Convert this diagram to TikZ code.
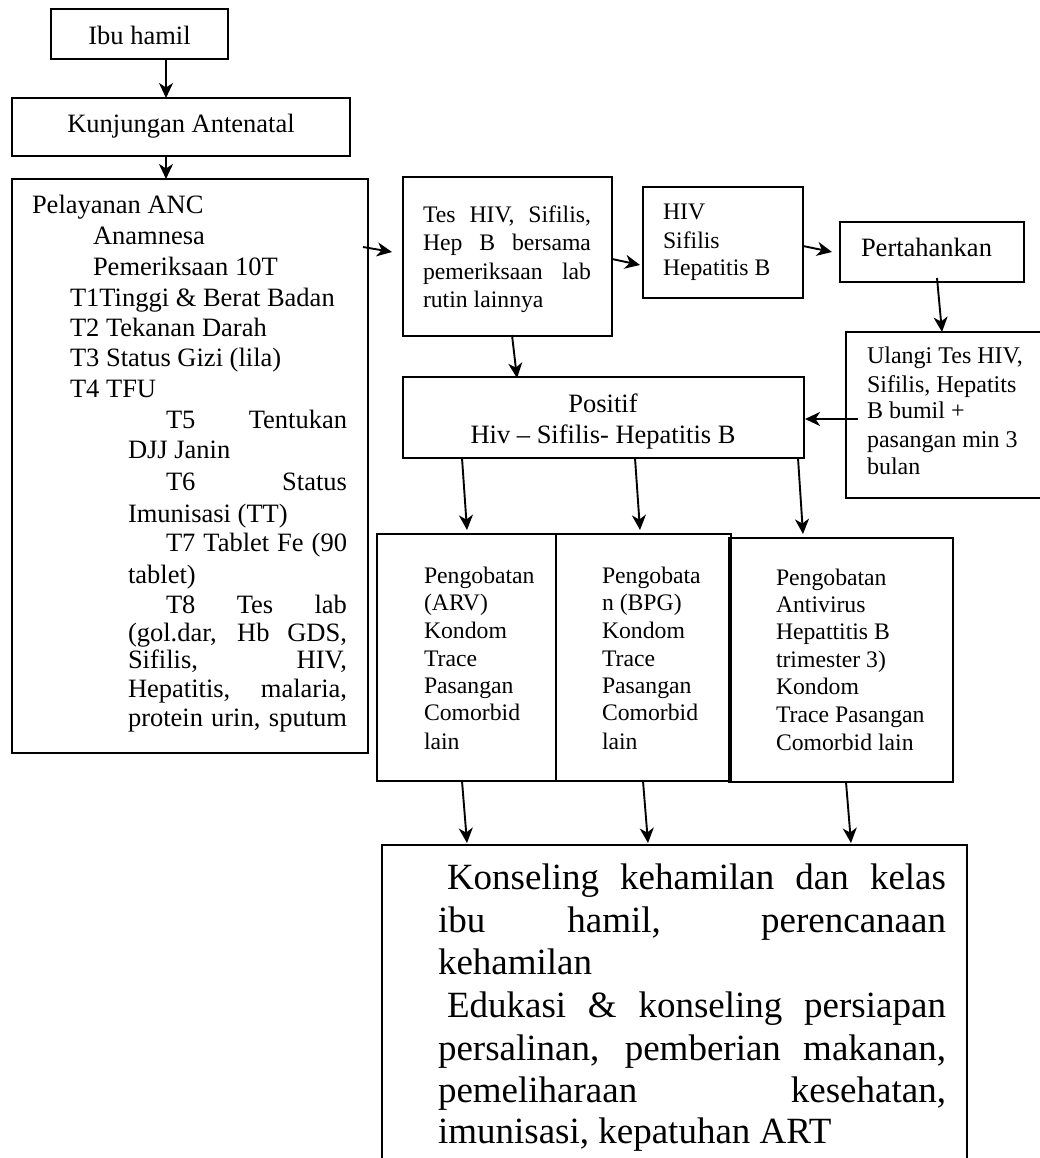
\documentclass[tikz,border=0pt]{standalone}
\usepackage{fontspec}
\setmainfont{Liberation Serif}
\usetikzlibrary{arrows.meta,calc}
\newcommand\jl[2]{\hbox to #1pt{\spaceskip=\fontdimen2\font plus 1fil\relax #2}}
\tikzset{
  box/.style={draw, line width=1.9pt, inner sep=0pt, outer sep=0pt, anchor=north west},
  arr/.style={line width=1.9pt, -{Stealth[length=15pt,width=14pt,inset=4.5pt]}},
  txt/.style={inner sep=0pt, outer sep=0pt, anchor=base west},
  tL/.style={txt, font=\fontsize{26.5}{30}\selectfont},
  tS/.style={txt, font=\fontsize{23.7}{28}\selectfont},
  tU/.style={txt, font=\fontsize{24}{28}\selectfont},
  tC/.style={txt, anchor=base, font=\fontsize{26.5}{31}\selectfont},
  tB/.style={txt, font=\fontsize{37}{43}\selectfont},
}
\begin{document}
\begin{tikzpicture}[x=1pt,y=-1pt]
\useasboundingbox (0,0) rectangle (1040,1158);
\clip (0,0) rectangle (1040,1158);

% boxes
\node[box, minimum width=177pt, minimum height=50pt] (ibu) at (51,9) {};
\node[box, minimum width=338pt, minimum height=58pt] (kunj) at (12,98) {};
\node[box, minimum width=356pt, minimum height=574pt] (anc) at (12,179) {};
\node[box, minimum width=209pt, minimum height=159pt] (tes) at (403,177) {};
\node[box, minimum width=160pt, minimum height=111pt] (hiv) at (643,187) {};
\node[box, minimum width=184pt, minimum height=60pt] (pert) at (840,222) {};
\node[box, minimum width=204pt, minimum height=166pt] (ulangi) at (846,332) {};
\node[box, minimum width=401pt, minimum height=81pt] (pos) at (403,377) {};
\node[box, minimum width=179pt, minimum height=247pt] (p1) at (377,534) {};
\node[box, minimum width=175pt, minimum height=247pt] (p2) at (556,534) {};
\node[box, minimum width=224pt, minimum height=244pt] (p3) at (729,538) {};
\node[box, minimum width=585pt, minimum height=330pt] (kons) at (382,845) {};

% texts
\node[tL, anchor=base] (tibu) at (139.5,45) {Ibu hamil};
\node[tL, anchor=base] (tkunj) at (181,133) {Kunjungan Antenatal};

\node[tL] (l1) at (32,214) {Pelayanan ANC};
\node[tL] (l2) at (93,244) {Anamnesa};
\node[tL] (l3) at (93,275) {Pemeriksaan 10T};
\node[tL] (l4) at (70,306) {T1Tinggi \& Berat Badan};
\node[tL] (l5) at (70,336) {T2 Tekanan Darah};
\node[tL] (l6) at (70,366) {T3 Status Gizi (lila)};
\node[tL] (l7) at (70,397) {T4 TFU};
\node[tL] (l8) at (166,428) {\jl{181}{T5 Tentukan}};
\node[tL] (l9) at (128,458) {DJJ Janin};
\node[tL] (l10) at (166,490) {\jl{181}{T6 Status}};
\node[tL] (l11) at (128,522) {Imunisasi (TT)};
\node[tL] (l12) at (166,551) {\jl{181}{T7 Tablet Fe (90}};
\node[tL] (l13) at (128,583) {tablet)};
\node[tL] (l14) at (166,613) {\jl{181}{T8 Tes lab}};
\node[tL] (l15) at (128,641) {\jl{219}{(gol.dar, Hb GDS,}};
\node[tL] (l16) at (128,668) {\jl{219}{Sifilis, HIV,}};
\node[tL] (l17) at (128,697) {\jl{219}{Hepatitis, malaria,}};
\node[tL] (l18) at (128,726) {\jl{219}{protein urin, sputum}};

\node[tS] (t1) at (423,223) {\jl{168}{Tes HIV, Sifilis,}};
\node[tS] (t2) at (423,251) {\jl{168}{Hep B bersama}};
\node[tS] (t3) at (423,279) {\jl{168}{pemeriksaan lab}};
\node[tS] (t4) at (423,307) {rutin lainnya};

\node[tS] (h1) at (663,220) {HIV};
\node[tS] (h2) at (663,248) {Sifilis};
\node[tS] (h3) at (663,275) {Hepatitis B};

\node[tL] (tpert) at (861,257) {Pertahankan};

\node[tU] (u1) at (867,363) {Ulangi Tes HIV,};
\node[tU] (u2) at (867,392) {Sifilis, Hepatits};
\node[tU] (u3) at (867,418) {B bumil +};
\node[tU] (u4) at (867,447) {pasangan min 3};
\node[tU] (u5) at (867,474) {bulan};

\node[tC] (ps1) at (603,412) {Positif};
\node[tC] (ps2) at (603,443) {Hiv – Sifilis- Hepatitis B};

\node[tS] (a1) at (424,583) {Pengobatan};
\node[tS] (a2) at (424,610) {(ARV)};
\node[tS] (a3) at (424,638) {Kondom};
\node[tS] (a4) at (424,666) {Trace};
\node[tS] (a5) at (424,693) {Pasangan};
\node[tS] (a6) at (424,720) {Comorbid};
\node[tS] (a7) at (424,749) {lain};

\node[tS] (b1) at (602,583) {Pengobata};
\node[tS] (b2) at (602,610) {n (BPG)};
\node[tS] (b3) at (602,638) {Kondom};
\node[tS] (b4) at (602,666) {Trace};
\node[tS] (b5) at (602,693) {Pasangan};
\node[tS] (b6) at (602,720) {Comorbid};
\node[tS] (b7) at (602,749) {lain};

\node[tS] (c1) at (776,585) {Pengobatan};
\node[tS] (c2) at (776,612) {Antivirus};
\node[tS] (c3) at (776,639) {Hepattitis B};
\node[tS] (c4) at (776,667) {trimester 3)};
\node[tS] (c5) at (776,694) {Kondom};
\node[tS] (c6) at (776,722) {Trace Pasangan};
\node[tS] (c7) at (776,750) {Comorbid lain};

\node[tB] (k1) at (447,889) {\jl{499}{Konseling kehamilan dan kelas}};
\node[tB] (k2) at (438,932) {\jl{508}{ibu hamil, perencanaan}};
\node[tB] (k3) at (438,974) {kehamilan};
\node[tB] (k4) at (447,1017) {\jl{499}{Edukasi \& konseling persiapan}};
\node[tB] (k5) at (438,1060) {\jl{508}{persalinan, pemberian makanan,}};
\node[tB] (k6) at (438,1102) {\jl{508}{pemeliharaan kesehatan,}};
\node[tB] (k7) at (438,1143) {imunisasi, kepatuhan ART};

% arrows
\draw[arr] ($(ibu.south)+(26.5,0)$) -- ($(kunj.north)+(-15,0)$);
\draw[arr] ($(kunj.south)+(-15,0)$) -- ($(anc.north)+(-24,0)$);
\draw[arr] ($(anc.east)+(-5,-219)$) -- ($(tes.west)+(-11,-4.5)$);
\draw[arr] ($(tes.east)+(0,2.5)$) -- ($(hiv.west)+(-3,22.5)$);
\draw[arr] ($(hiv.east)+(0,3.5)$) -- ($(pert.west)+(-8,0)$);
\draw[arr] ($(pert.south)+(5,-4)$) -- ($(ulangi.north)+(-6,0)$);
\draw[arr] ($(ulangi.west)+(12,4)$) -- ($(pos.east)+(1,1.5)$);
\draw[arr] ($(tes.south)+(4.5,-1)$) -- ($(pos.north)+(-86.5,1)$);
\draw[arr] ($(pos.south)+(-141.5,0)$) -- ($(p1.north)+(0.5,-4)$);
\draw[arr] ($(pos.south)+(31.5,0)$) -- ($(p2.north)+(-3.5,-4)$);
\draw[arr] ($(pos.south)+(194.5,0)$) -- ($(p3.north)+(-38,-4)$);
\draw[arr] ($(p1.south)+(-4.5,0)$) -- ($(kons.north)+(-207.5,-2)$);
\draw[arr] ($(p2.south)+(-0.5,0)$) -- ($(kons.north)+(-26.5,-2)$);
\draw[arr] ($(p3.south)+(5,0)$) -- ($(kons.north)+(176.5,-2)$);
\end{tikzpicture}
\end{document}
